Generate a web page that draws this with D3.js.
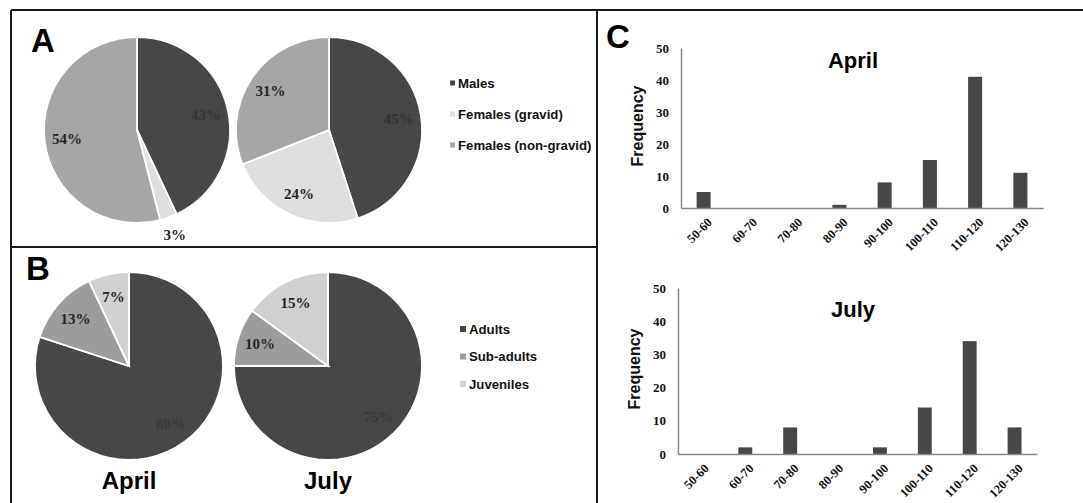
<!DOCTYPE html>
<html>
<head>
<meta charset="utf-8">
<script src="https://cdn.jsdelivr.net/npm/d3@7"></script>
<style>
  body { margin: 0; background: #fff; }
  svg { display: block; }
</style>
</head>
<body>
<svg id="svg" width="1083" height="503"></svg>
<script>
// panel A: sex ratio
let sexClasses = ["Males", "Females (gravid)", "Females (non-gravid)"];
let sexApril = [43, 3, 54];
let sexJuly = [45, 24, 31];

// panel B: age classes
let ageClasses = ["Adults", "Sub-adults", "Juveniles"];
let ageApril = [80, 13, 7];
let ageJuly = [75, 10, 15];

// panel C: size classes
let sizeBins = ["50-60", "60-70", "70-80", "80-90", "90-100", "100-110", "110-120", "120-130"];
let freqApril = [5, 0, 0, 1, 8, 15, 41, 11];
let freqJuly = [0, 2, 8, 0, 2, 14, 34, 8];
let freqTicks = [0, 10, 20, 30, 40, 50];

// colours
let dark = "#474747";
let sexColors = [dark, "#dedede", "#a6a6a6"];
let ageColors = [dark, "#9c9c9c", "#d0d0d0"];
let barColor = "#474747";

let svg = d3.select("#svg");

// frame lines
let frame = svg.append("g").attr("stroke", "#1a1a1a").attr("stroke-width", 2);
frame.append("line").attr("x1", 11).attr("x2", 1083).attr("y1", 10).attr("y2", 10);
frame.append("line").attr("x1", 11).attr("x2", 11).attr("y1", 10).attr("y2", 503);
frame.append("line").attr("x1", 11).attr("x2", 597).attr("y1", 247).attr("y2", 247);
frame.append("line").attr("x1", 597).attr("x2", 597).attr("y1", 10).attr("y2", 503);

function panelLetter(t, x, y) {
  svg.append("text").attr("x", x).attr("y", y).text(t)
    .attr("font-family", "Liberation Sans, Arial, sans-serif")
    .attr("font-weight", "bold").attr("font-size", 33).attr("fill", "#000");
}
panelLetter("A", 31, 52);
panelLetter("B", 26, 280);
panelLetter("C", 606, 48);

let pie = d3.pie().sort(null).value(d => d);

// draw one pie; outside = set of indexes whose label goes outside
function drawPie(values, colors, cx, cy, r, outside, darkText) {
  let g = svg.append("g").attr("transform", `translate(${cx},${cy})`);
  let arcs = pie(values);
  let arc = d3.arc().innerRadius(0).outerRadius(r);
  g.selectAll("path").data(arcs).join("path")
    .attr("d", arc)
    .attr("fill", (d, i) => colors[i])
    .attr("stroke", "#fff").attr("stroke-width", 1.8);
  let inner = d3.arc().innerRadius(r * 0.76).outerRadius(r * 0.76);
  let outer = d3.arc().innerRadius(r * 1.2).outerRadius(r * 1.2);
  g.selectAll("text").data(arcs).join("text")
    .attr("transform", (d, i) => `translate(${(outside.includes(i) ? outer : inner).centroid(d)})`)
    .attr("text-anchor", "middle").attr("dy", "0.35em")
    .attr("font-family", "Liberation Serif, Times New Roman, serif")
    .attr("font-weight", "bold").attr("font-size", 15)
    .attr("fill", (d, i) => i === 0 ? darkText : "#262626")
    .text(d => d.data + "%");
}

drawPie(sexApril, sexColors, 137, 130, 93, [1], "#353535");
drawPie(sexJuly, sexColors, 329, 130, 93, [], "#353535");
drawPie(ageApril, ageColors, 129, 366, 94, [], "#3a3a3a");
drawPie(ageJuly, ageColors, 328, 366, 94, [], "#3a3a3a");

// month captions under B pies
[["April", 129], ["July", 328]].forEach(([t, x]) => {
  svg.append("text").attr("x", x).attr("y", 489).text(t)
    .attr("text-anchor", "middle")
    .attr("font-family", "Liberation Sans, Arial, sans-serif")
    .attr("font-weight", "bold").attr("font-size", 24).attr("fill", "#000");
});

function legend(names, colors, x, y0, step, sq) {
  let g = svg.append("g");
  names.forEach((n, i) => {
    let y = y0 + i * step;
    g.append("rect").attr("x", x).attr("y", y - sq / 2).attr("width", sq).attr("height", sq)
      .attr("fill", colors[i]);
    g.append("text").attr("x", x + sq + 3).attr("y", y).attr("dy", "0.35em").text(n)
      .attr("font-family", "Liberation Sans, Arial, sans-serif")
      .attr("font-weight", "bold").attr("font-size", 13.2).attr("fill", "#111");
  });
}
legend(sexClasses, sexColors, 450, 83, 31, 5);
legend(ageClasses, ageColors, 460, 329, 27.5, 6);

// histograms
function histogram(values, title, x0, x1, yTop, yBottom, titleY) {
  let x = d3.scaleBand().domain(sizeBins).range([x0, x1]).paddingInner(0.69).paddingOuter(0.345);
  let y = d3.scaleLinear().domain([0, 50]).range([yBottom, yTop]);
  let g = svg.append("g");

  g.selectAll("rect").data(values).join("rect")
    .attr("x", (d, i) => x(sizeBins[i]))
    .attr("y", d => y(d))
    .attr("width", x.bandwidth())
    .attr("height", d => y(0) - y(d))
    .attr("fill", barColor);

  let yAxis = g.append("g").attr("transform", `translate(${x0},0)`)
    .call(d3.axisLeft(y).tickValues(freqTicks).tickSize(0).tickPadding(12));
  yAxis.select(".domain").attr("stroke", "#8a8a8a").attr("stroke-width", 1.5);
  yAxis.selectAll("text")
    .attr("font-family", "Liberation Serif, Times New Roman, serif")
    .attr("font-weight", "bold").attr("font-size", 13).attr("fill", "#111");

  let xAxis = g.append("g").attr("transform", `translate(0,${yBottom})`)
    .call(d3.axisBottom(x).tickSize(0).tickSizeOuter(0));
  xAxis.select(".domain").attr("stroke", "#8a8a8a").attr("stroke-width", 1.5);
  xAxis.selectAll("text")
    .attr("font-family", "Liberation Serif, Times New Roman, serif")
    .attr("font-weight", "bold").attr("font-size", 12.5).attr("fill", "#111")
    .attr("text-anchor", "end")
    .attr("dy", 0)
    .attr("transform", "translate(7,13) rotate(-45)");

  g.append("text").attr("x", 853).attr("y", titleY).text(title)
    .attr("text-anchor", "middle")
    .attr("font-family", "Liberation Sans, Arial, sans-serif")
    .attr("font-weight", "bold").attr("font-size", 22).attr("fill", "#000");

  g.append("text")
    .attr("transform", `translate(${x0 - 44},${(yTop + yBottom) / 2 - 2}) rotate(-90)`)
    .attr("text-anchor", "middle").attr("dy", "0.35em").text("Frequency")
    .attr("font-family", "Liberation Sans, Arial, sans-serif")
    .attr("font-weight", "bold").attr("font-size", 16).attr("fill", "#111");
}
histogram(freqApril, "April", 681, 1043, 48, 208, 68);
histogram(freqJuly, "July", 678, 1037, 288, 454, 317);
</script>
</body>
</html>
